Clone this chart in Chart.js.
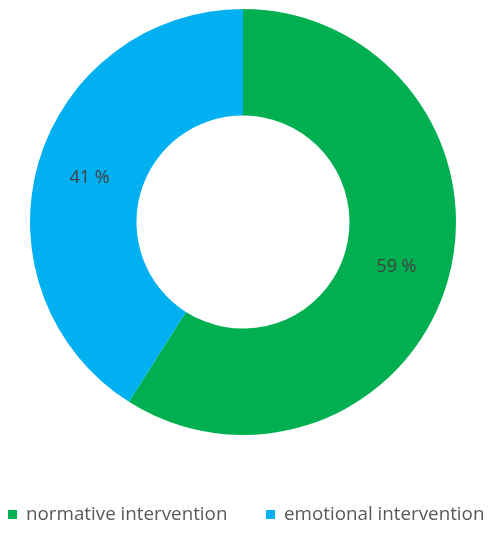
<!DOCTYPE html>
<html>
<head>
<meta charset="utf-8">
<script src="https://cdn.jsdelivr.net/npm/chart.js@4"></script>
<style>
  html, body { margin: 0; padding: 0; background: #fff; }
  #wrap { width: 493px; height: 533px; }
</style>
</head>
<body>
<div id="wrap"><canvas id="grafic"></canvas></div>
<script>
const categories = ['normative intervention', 'emotional intervention'];
const values = [59, 41];
const pointLabels = ['59 %', '41 %'];
const colors = ['#00B050', '#00B0F0'];

// labels inside the ring
const sliceLabels = {
    id: 'sliceLabels',
    afterDatasetsDraw(chart) {
        const ctx = chart.ctx;
        const meta = chart.getDatasetMeta(0);
        ctx.save();
        ctx.font = '18px "Open Sans", sans-serif';
        ctx.fillStyle = '#404040';
        ctx.textAlign = 'center';
        ctx.textBaseline = 'middle';
        meta.data.forEach((arc, i) => {
            const p = arc.tooltipPosition();
            ctx.fillText(pointLabels[i], p.x, p.y);
        });
        ctx.restore();
    }
};

// legend at bottom
const bottomLegend = {
    id: 'bottomLegend',
    afterDraw(chart) {
        const ctx = chart.ctx;
        const xs = [8, 266];
        const y = 515;
        ctx.save();
        ctx.font = '18.8px "Open Sans", sans-serif';
        ctx.textBaseline = 'middle';
        ctx.textAlign = 'left';
        categories.forEach((c, i) => {
            ctx.fillStyle = colors[i];
            ctx.fillRect(xs[i], y - 5, 9, 9);
            ctx.fillStyle = '#595959';
            ctx.fillText(c, xs[i] + 18, y);
        });
        ctx.restore();
    }
};

new Chart(document.getElementById('grafic').getContext('2d'), {
    type: 'doughnut',
    data: {
        labels: categories,
        datasets: [{
            data: values,
            backgroundColor: colors,
            borderWidth: 0
        }]
    },
    options: {
        responsive: true,
        maintainAspectRatio: false,
        animation: false,
        cutout: '50%',
        layout: { padding: { top: 9, bottom: 98, left: 0, right: 7 } },
        plugins: {
            legend: { display: false },
            tooltip: { enabled: false }
        }
    },
    plugins: [sliceLabels, bottomLegend]
});
</script>
</body>
</html>
